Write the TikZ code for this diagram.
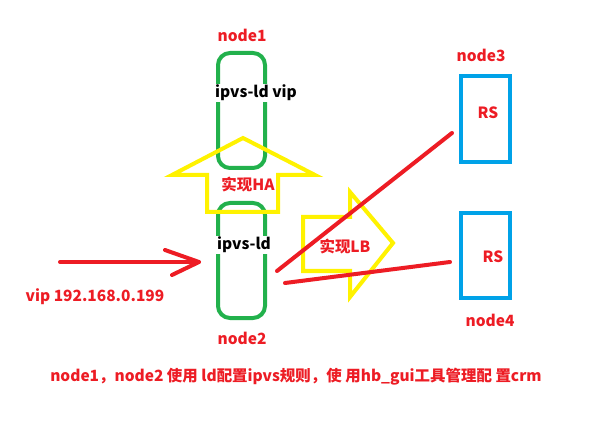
\documentclass[tikz,border=0pt]{standalone}
\usepackage{fontspec}
\setmainfont{Noto Sans CJK SC}
\definecolor{pred}{RGB}{237,28,36}
\definecolor{pgreen}{RGB}{34,177,76}
\definecolor{pyellow}{RGB}{255,242,0}
\definecolor{pblue}{RGB}{0,162,232}
\tikzset{
  lbl/.style={text=pred,font=\bfseries\fontsize{11.6}{13}\selectfont,inner sep=1pt},
  blk/.style={text=black,font=\bfseries\fontsize{11.6}{13}\selectfont,inner sep=1pt,fill=white},
  ldbox/.style={draw=pgreen,line width=3pt,rounded corners=9pt},
  rsbox/.style={draw=pblue,line width=3.5pt},
  yarrow/.style={draw=pyellow,line width=3pt,line join=miter},
  redline/.style={draw=pred,line width=3pt,line cap=round}
}
\begin{document}
\begin{tikzpicture}[x=0.75pt,y=-0.75pt]
\useasboundingbox[fill=white] (0,0) rectangle (608,428);
% green boxes
\draw[ldbox] (218,53) rectangle (265,168);
\node[blk] (ipvs1) at (256,93) {ipvs-ld vip};
\draw[ldbox] (218,203) rectangle (265,318);
\node[blk] (ipvs2) at (244,245) {ipvs-ld};
% yellow HA arrow
\draw[yarrow] (207,212) -- (207,175) -- (172,175) -- (243,138) -- (315,175) -- (278,175) -- (278,212) -- cycle;
\node[lbl] (ha) at (248,185) {实现HA};
% yellow LB arrow
\draw[yarrow] (303,217) -- (350,217) -- (350,192) -- (393,243) -- (350,297) -- (350,271) -- (303,271) -- cycle;
\node[lbl] (lb) at (345,247) {实现LB};
% node labels
\node[lbl] (n1) at (242,35) {node1};
\node[lbl] (n2) at (242,338) {node2};
\node[lbl] (n3) at (481,55) {node3};
\node[lbl] (n4) at (490,320) {node4};
% RS boxes
\draw[rsbox] (461,76) rectangle (510,162);
\node[lbl] (rs1) at (488,113) {RS};
\draw[rsbox] (461,213) rectangle (510,298);
\node[lbl] (rs2) at (493,257) {RS};
% red lines
\coordinate (a1) at (277,271);
\coordinate (b1) at (452,133);
\coordinate (a2) at (285,283);
\coordinate (b2) at (450,262);
\draw[redline] (a1) -- (b1);
\draw[redline] (a2) -- (b2);
% incoming arrow
\coordinate (in0) at (60,262);
\coordinate (in1) at (199,262);
\coordinate (w1) at (165,250);
\coordinate (w2) at (172,275);
\draw[redline] (in0) -- (in1);
\draw[redline,line join=round] (w1) -- (in1) -- (w2);
\node[lbl] (vip) at (95,297) {vip 192.168.0.199};
\node[lbl] (note) at (296,377) {node1，node2 使用 ld配置ipvs规则，使 用hb\_gui工具管理配 置crm};
\end{tikzpicture}
\end{document}
